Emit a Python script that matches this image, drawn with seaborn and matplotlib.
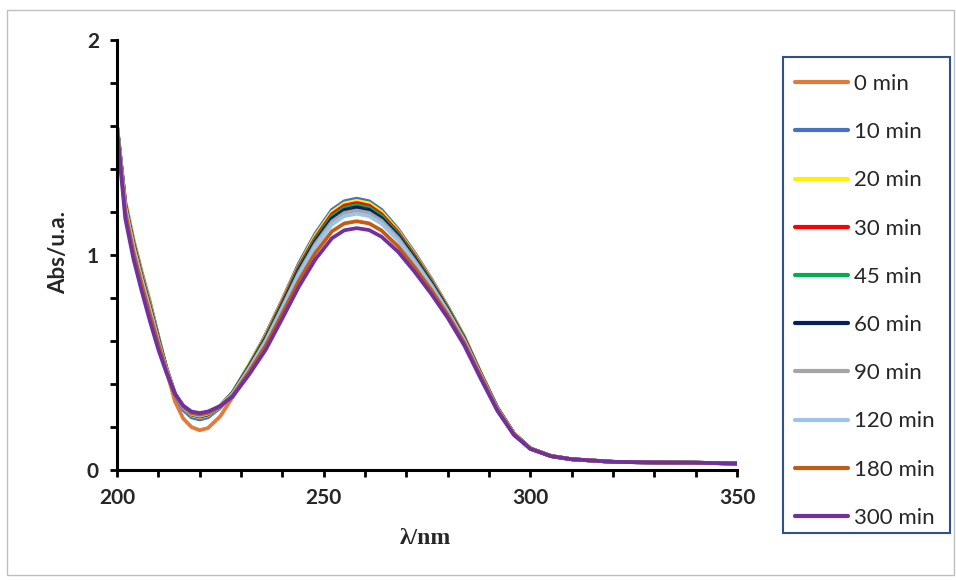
import numpy as np
import pandas as pd
import matplotlib
matplotlib.use("Agg")
import matplotlib.pyplot as plt
from matplotlib.patches import Rectangle
from matplotlib.lines import Line2D
from matplotlib.ticker import MultipleLocator
import seaborn as sns

sns.set_theme(style="ticks")
plt.rcParams["font.family"] = ["Lato", "DejaVu Sans"]

# wavelength grid (nm)
wavelength = [200, 202, 204, 206, 208, 210, 212, 214, 216, 218, 220, 222, 225, 228,
              232, 236, 240, 244, 248, 252, 255, 258, 261, 264, 268, 272, 276, 280,
              284, 288, 292, 296, 300, 305, 310, 320, 330, 340, 350]

# absorbance per irradiation time
abs_0 = [1.60, 1.25, 1.07, 0.92, 0.78, 0.62, 0.46, 0.32, 0.24, 0.20, 0.185, 0.195, 0.25, 0.34,
         0.48, 0.63, 0.79, 0.955, 1.095, 1.20, 1.245, 1.255, 1.243, 1.203, 1.115, 1.005, 0.885, 0.757,
         0.618, 0.45, 0.29, 0.17, 0.10, 0.065, 0.05, 0.038, 0.035, 0.034, 0.030]
abs_10 = [1.60, 1.24, 1.06, 0.91, 0.77, 0.62, 0.47, 0.35, 0.28, 0.245, 0.235, 0.245, 0.29, 0.36,
          0.49, 0.63, 0.79, 0.96, 1.10, 1.21, 1.25, 1.262, 1.25, 1.21, 1.12, 1.01, 0.89, 0.76,
          0.62, 0.45, 0.29, 0.17, 0.10, 0.065, 0.05, 0.038, 0.035, 0.034, 0.030]
abs_20 = [1.60, 1.24, 1.06, 0.905, 0.765, 0.615, 0.47, 0.355, 0.29, 0.255, 0.245, 0.255, 0.295, 0.36,
          0.49, 0.625, 0.785, 0.95, 1.09, 1.20, 1.24, 1.252, 1.24, 1.20, 1.112, 1.003, 0.884, 0.756,
          0.618, 0.45, 0.29, 0.17, 0.10, 0.065, 0.05, 0.038, 0.035, 0.034, 0.030]
abs_30 = [1.60, 1.235, 1.055, 0.90, 0.76, 0.61, 0.47, 0.355, 0.29, 0.258, 0.248, 0.258, 0.297, 0.36,
          0.485, 0.62, 0.78, 0.945, 1.08, 1.19, 1.23, 1.242, 1.23, 1.19, 1.105, 0.997, 0.88, 0.753,
          0.615, 0.448, 0.29, 0.17, 0.10, 0.065, 0.05, 0.038, 0.035, 0.034, 0.030]
abs_45 = [1.60, 1.23, 1.05, 0.895, 0.755, 0.61, 0.47, 0.355, 0.29, 0.258, 0.25, 0.26, 0.298, 0.36,
          0.483, 0.615, 0.773, 0.937, 1.072, 1.18, 1.22, 1.232, 1.22, 1.181, 1.097, 0.99, 0.875, 0.749,
          0.612, 0.446, 0.288, 0.17, 0.10, 0.065, 0.05, 0.038, 0.035, 0.034, 0.030]
abs_60 = [1.60, 1.23, 1.045, 0.89, 0.75, 0.605, 0.47, 0.355, 0.29, 0.26, 0.25, 0.26, 0.298, 0.358,
          0.48, 0.61, 0.767, 0.93, 1.064, 1.17, 1.21, 1.222, 1.21, 1.172, 1.09, 0.984, 0.87, 0.745,
          0.609, 0.444, 0.287, 0.17, 0.10, 0.065, 0.05, 0.038, 0.035, 0.034, 0.030]
abs_90 = [1.60, 1.225, 1.04, 0.885, 0.745, 0.60, 0.468, 0.355, 0.29, 0.26, 0.252, 0.262, 0.298, 0.356,
          0.475, 0.603, 0.758, 0.918, 1.052, 1.156, 1.196, 1.207, 1.196, 1.16, 1.08, 0.975, 0.863, 0.74,
          0.605, 0.442, 0.286, 0.17, 0.10, 0.065, 0.05, 0.038, 0.035, 0.034, 0.030]
abs_120 = [1.60, 1.22, 1.035, 0.88, 0.74, 0.595, 0.465, 0.355, 0.29, 0.262, 0.253, 0.263, 0.298, 0.354,
           0.47, 0.597, 0.75, 0.907, 1.04, 1.142, 1.181, 1.192, 1.181, 1.146, 1.068, 0.966, 0.856, 0.735,
           0.601, 0.44, 0.285, 0.168, 0.10, 0.065, 0.05, 0.038, 0.035, 0.034, 0.030]
abs_180 = [1.59, 1.20, 1.01, 0.86, 0.72, 0.585, 0.46, 0.355, 0.295, 0.265, 0.258, 0.266, 0.296, 0.347,
           0.458, 0.58, 0.728, 0.88, 1.01, 1.11, 1.147, 1.157, 1.147, 1.114, 1.04, 0.943, 0.838, 0.722,
           0.592, 0.435, 0.282, 0.167, 0.10, 0.065, 0.05, 0.038, 0.035, 0.034, 0.030]
abs_300 = [1.58, 1.17, 0.98, 0.83, 0.69, 0.56, 0.45, 0.355, 0.30, 0.272, 0.265, 0.272, 0.298, 0.342,
           0.445, 0.56, 0.705, 0.853, 0.98, 1.078, 1.115, 1.125, 1.116, 1.085, 1.015, 0.922, 0.82, 0.708,
           0.58, 0.425, 0.276, 0.163, 0.098, 0.064, 0.05, 0.038, 0.035, 0.034, 0.030]

times = ["0 min", "10 min", "20 min", "30 min", "45 min", "60 min",
         "90 min", "120 min", "180 min", "300 min"]
colors = ["#E07B39", "#4472C4", "#FFF200", "#FF0000", "#00B050", "#002060",
          "#A5A5A5", "#9DC3E6", "#C55A11", "#7030A0"]
series = [abs_0, abs_10, abs_20, abs_30, abs_45, abs_60, abs_90, abs_120, abs_180, abs_300]

df = pd.concat([pd.DataFrame({"nm": wavelength, "Abs": s, "t": t})
                for t, s in zip(times, series)], ignore_index=True)

fig = plt.figure(figsize=(9.56, 5.8), dpi=100)
fig.patch.set_facecolor("white")
ax = fig.add_axes([117 / 956, 1 - 470 / 580, 620 / 956, 430 / 580])

sns.lineplot(data=df, x="nm", y="Abs", hue="t", hue_order=times,
             palette=dict(zip(times, colors)), estimator=None, sort=False,
             linewidth=2.7, legend=False, ax=ax,
             solid_joinstyle="round", solid_capstyle="round")

ax.set_xlim(200, 350)
ax.set_ylim(0, 2)
ax.xaxis.set_major_locator(MultipleLocator(50))
ax.xaxis.set_minor_locator(MultipleLocator(10))
ax.yaxis.set_major_locator(MultipleLocator(1))
ax.yaxis.set_minor_locator(MultipleLocator(0.2))
ax.tick_params(which="both", direction="out", length=5, width=2, color="black")
ax.tick_params(axis="both", labelsize=15, pad=8)
for lbl in ax.get_xticklabels() + ax.get_yticklabels():
    lbl.set_fontweight("bold")
for side in ["top", "right"]:
    ax.spines[side].set_visible(False)
for side in ["left", "bottom"]:
    ax.spines[side].set_linewidth(2.2)
    ax.spines[side].set_color("black")

ax.set_xlabel("λ/nm", fontfamily="Liberation Serif", fontweight="bold", fontsize=17)
ax.xaxis.set_label_coords(0.497, -0.135)
ax.set_ylabel("Abs/u.a.", fontweight="bold", fontsize=16)
ax.yaxis.set_label_coords(-0.078, 0.505)

# legend with its own box
handles = [Line2D([0], [0], color=c, lw=3) for c in colors]
fig.legend(handles, times, loc="upper left", bbox_to_anchor=(786 / 956, 1 - 65 / 580),
           frameon=False, fontsize=16, handlelength=2.4, handletextpad=0.25,
           labelspacing=1.27, borderaxespad=0)
fig.add_artist(Rectangle((783 / 956, 1 - 533 / 580), 167 / 956, 476 / 580,
                         transform=fig.transFigure, fill=False,
                         edgecolor="#2F4F8F", lw=1.5))
# outer frame
fig.add_artist(Rectangle((7 / 956, 1 - 575 / 580), 947 / 956, 565 / 580,
                         transform=fig.transFigure, fill=False,
                         edgecolor="#BFBFBF", lw=1.0))

fig.savefig("out.png", dpi=100)
